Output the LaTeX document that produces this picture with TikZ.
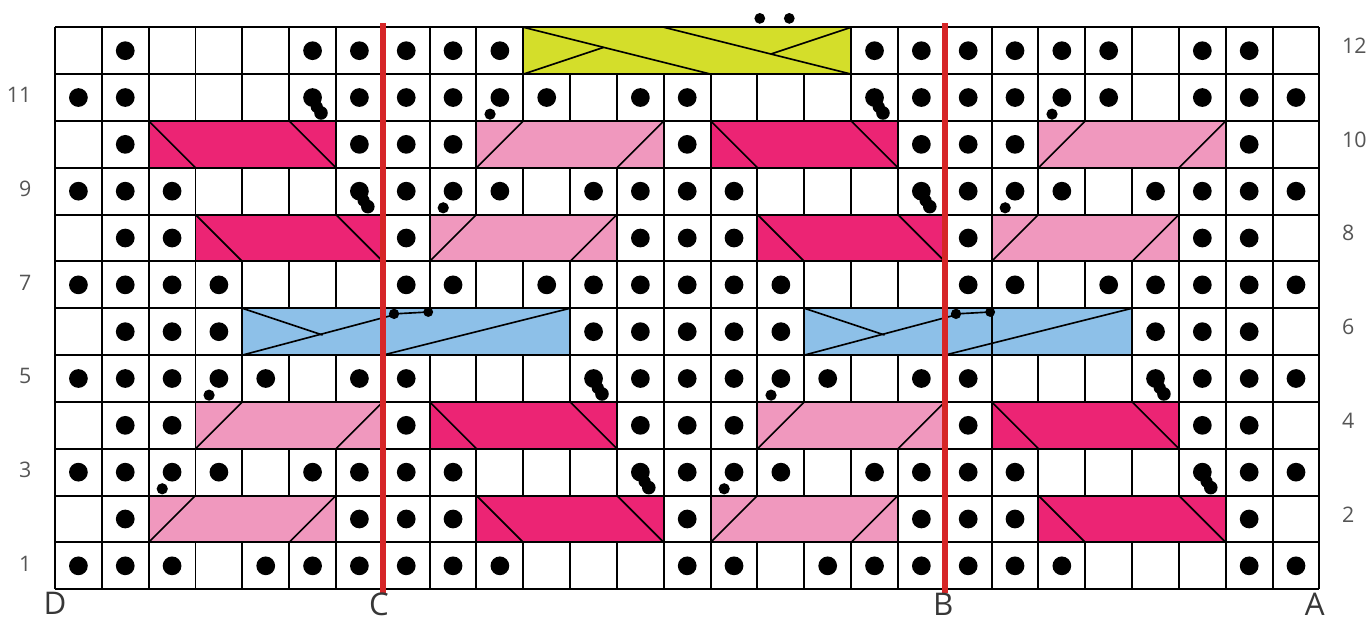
\documentclass[tikz,border=0pt]{standalone}
\usepackage{fontspec}
\setmainfont{Open Sans}
\definecolor{darkpink}{RGB}{236,36,116}
\definecolor{lightpink}{RGB}{240,152,190}
\definecolor{cableblue}{RGB}{141,192,232}
\definecolor{cableyellow}{RGB}{212,222,42}
\definecolor{redmark}{RGB}{214,38,40}
\definecolor{labelgray}{RGB}{85,85,85}
\definecolor{lettergray}{RGB}{55,55,55}
\tikzset{
  gridline/.style={line width=1.2pt, black},
  darkcable/.style={fill=darkpink, draw=black, line width=1.2pt},
  lightcable/.style={fill=lightpink, draw=black, line width=1.2pt},
  bluecable/.style={fill=cableblue, draw=black, line width=1.2pt},
  yellowcable/.style={fill=cableyellow, draw=black, line width=1.2pt},
  diag/.style={line width=1pt, black},
  redline/.style={line width=3.6pt, redmark},
  rownum/.style={font=\fontsize{13}{13}\selectfont, text=labelgray, inner sep=0pt},
  colletter/.style={font=\fontsize{19}{19}\selectfont, text=lettergray, inner sep=0pt}
}
\begin{document}
\begin{tikzpicture}[x=1cm,y=1cm]
\useasboundingbox (-1.1745,-0.634) rectangle (27.995,12.583);
\fill[white] (-1.1745,-0.634) rectangle (27.995,12.583);
% grid
\draw[gridline] (0,0) grid (27,12);
% dark pink cables (\ lines)
\foreach \cx/\ry in {2/10,14/10,3/8,15/8,8/4,20/4,9/2,21/2}{
  \draw[darkcable] (\cx,\ry-1) rectangle ++(4,1);
  \draw[diag] (\cx,\ry) -- (\cx+1,\ry-1);
  \draw[diag] (\cx+3,\ry) -- (\cx+4,\ry-1);
}
% light pink cables (/ lines)
\foreach \cx/\ry in {9/10,21/10,8/8,20/8,3/4,15/4,2/2,14/2}{
  \draw[lightcable] (\cx,\ry-1) rectangle ++(4,1);
  \draw[diag] (\cx,\ry-1) -- (\cx+1,\ry);
  \draw[diag] (\cx+3,\ry-1) -- (\cx+4,\ry);
}
% blue cables
\foreach \cx in {4,16}{
  \draw[bluecable] (\cx,5) rectangle ++(7,1);
  \draw[diag] (\cx,6) -- (\cx+1.714,5.429);
  \draw[diag] (\cx,5) -- (\cx+3.24,5.86);
  \draw[diag] (\cx+3.24,5.88) -- (\cx+3.97,5.92);
  \draw[diag] (\cx+3,5) -- (\cx+7,6);
  \fill (\cx+3.24,5.88) circle (0.11);
  \fill (\cx+3.97,5.92) circle (0.105);
}
\draw[gridline] (20,5) -- (20,6);
% yellow cable
\draw[yellowcable] (10,11) rectangle (17,12);
\draw[diag] (10,12) -- (14,11);
\draw[diag] (10,11) -- (11.714,11.571);
\draw[diag] (13,12) -- (17,11);
\draw[diag] (17,12) -- (15.286,11.429);
\fill (15.05,12.19) circle (0.115);
\fill (15.68,12.19) circle (0.115);
% plain dots
\foreach \ry/\cols in {
  12/{2,6,7,8,9,10,18,19,20,21,22,23,25,26},
  11/{1,2,7,8,9,11,13,14,19,20,21,23,25,26,27},
  10/{2,7,8,9,14,19,20,21,26},
  9/{1,2,3,8,10,12,13,14,15,20,22,24,25,26,27},
  8/{2,3,8,13,14,15,20,25,26},
  7/{1,2,3,4,8,9,11,12,13,14,15,16,20,21,23,24,25,26,27},
  6/{2,3,4,12,13,14,15,16,24,25,26},
  5/{1,2,3,5,7,8,13,14,15,17,19,20,25,26,27},
  4/{2,3,8,13,14,15,20,25,26},
  3/{1,2,4,6,7,8,9,14,16,18,19,20,21,26,27},
  2/{2,7,8,9,14,19,20,21,26},
  1/{1,2,3,5,6,7,8,9,10,14,15,17,18,19,20,21,22,26,27}}{
  \foreach \cc in \cols {
    \fill (\cc-0.5,\ry-0.5) circle (0.2);
  }
}
% dots with trailing small dots to lower right
\foreach \ry/\cc in {11/6,11/18,9/7,9/19,5/12,5/24,3/13,3/25}{
  \fill (\cc-0.5,\ry-0.5) circle (0.2);
  \fill (\cc-0.41,\ry-0.7) circle (0.13);
  \fill (\cc-0.32,\ry-0.83) circle (0.145);
}
% dots with small dot to lower left
\foreach \ry/\cc in {11/10,11/22,9/9,9/21,5/4,5/16,3/3,3/15}{
  \fill (\cc-0.5,\ry-0.5) circle (0.2);
  \fill (\cc-0.71,\ry-0.855) circle (0.12);
}
% red lines
\draw[redline] (7,-0.09) -- (7,12.1);
\draw[redline] (19,-0.09) -- (19,12.1);
% row numbers
\foreach \ry in {1,3,5,7,9,11}{
  \node[rownum, anchor=east] (left\ry) at (-0.5,\ry-0.45) {\ry};
}
\foreach \ry in {2,4,6,8,10,12}{
  \node[rownum, anchor=west] (right\ry) at (27.48,\ry-0.4) {\ry};
}
% letters
\node[colletter] (letD) at (0,-0.31) {D};
\node[colletter] (letC) at (6.92,-0.32) {C};
\node[colletter] (letB) at (18.97,-0.32) {B};
\node[colletter] (letA) at (26.9,-0.32) {A};
\end{tikzpicture}
\end{document}
